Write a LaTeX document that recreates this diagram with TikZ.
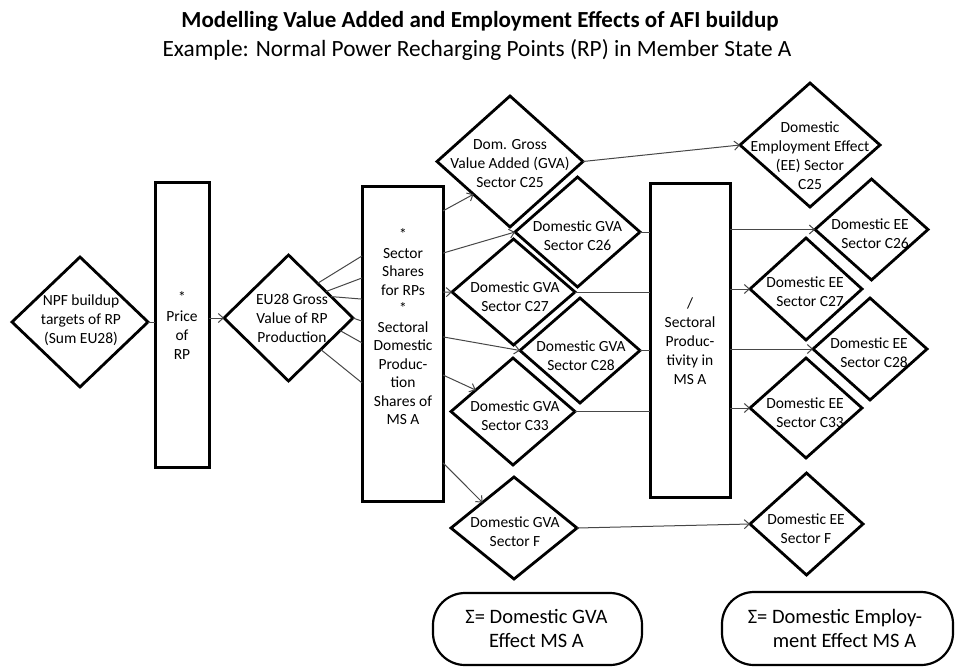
\documentclass[tikz,border=0pt]{standalone}
\usepackage{fontspec}
\setmainfont{Carlito}
\usetikzlibrary{shapes.geometric,arrows.meta,calc}
\begin{document}
\begin{tikzpicture}[x=1pt,y=-1pt,
  dmd/.style={diamond, draw, line width=2.8pt, inner sep=0pt, outer sep=0pt},
  bar/.style={rectangle, draw, line width=3pt, inner sep=0pt, outer sep=0pt},
  txt/.style={align=center, font=\fontsize{15.5}{19}\selectfont, inner sep=0pt},
  rtxt/.style={align=right, font=\fontsize{15.5}{19}\selectfont, inner sep=0pt, anchor=east},
  conn/.style={draw=black!72, line width=1pt},
  arr/.style={conn, -{Straight Barb[length=5pt,width=9pt]}},
  sumbox/.style={rectangle, rounded corners=32pt, draw, line width=2.2pt, inner sep=0pt},
  sumtxt/.style={align=center, font=\fontsize{20.5}{24}\selectfont, inner sep=0pt}
]
\useasboundingbox (0,0) rectangle (955,667);

% title
\node[font=\fontsize{23}{27}\selectfont\bfseries, anchor=base] (title) at (480,27) {Modelling Value Added and Employment Effects of AFI buildup};
\node[font=\fontsize{23.3}{27}\selectfont, anchor=base] (subtitle) at (477,56) {Example: Normal Power Recharging Points (RP) in Member State A};

% left chain
\node[dmd, minimum width=136pt, minimum height=130pt] (npf) at (80,322) {};
\node[txt] (npft) at (81,320) {NPF buildup\\targets of RP\\(Sum EU28)};
\node[bar, minimum width=54pt, minimum height=285pt] (price) at (182,324.5) {};
\node[txt] (pricet) at (182,325) {*\\Price\\of\\RP};
\node[dmd, minimum width=129pt, minimum height=126pt] (eu) at (288.5,318) {};
\node[txt] (eut) at (292,318) {EU28 Gross\\Value of RP\\Production};
\node[bar, minimum width=81pt, minimum height=315pt] (sec) at (402.5,343.5) {};
\node[txt, font=\fontsize{15.5}{18.5}\selectfont] (sect) at (403,327) {*\\Sector\\Shares\\for RPs\\*\\Sectoral\\Domestic\\Produc-\\tion\\Shares of\\MS A};

% GVA diamonds
\node[dmd, minimum width=146pt, minimum height=131pt] (g25) at (510,161.5) {};
\node[txt] (g25t) at (510,164) {Dom. Gross\\Value Added (GVA)\\Sector C25};
\node[dmd, minimum width=125pt, minimum height=110pt] (g26) at (577.5,232) {};
\node[txt] (g26t) at (577.5,236) {Domestic GVA\\Sector C26};
\node[dmd, minimum width=123pt, minimum height=106pt] (g27) at (513.5,292) {};
\node[txt] (g27t) at (515,297) {Domestic GVA\\Sector C27};
\node[dmd, minimum width=120pt, minimum height=105pt] (g28) at (580,350.5) {};
\node[txt] (g28t) at (581,356) {Domestic GVA\\Sector C28};
\node[dmd, minimum width=124pt, minimum height=107pt] (g33) at (513,411.5) {};
\node[txt] (g33t) at (515,416) {Domestic GVA\\Sector C33};
\node[dmd, minimum width=126pt, minimum height=102pt] (gF) at (514,528) {};
\node[txt] (gFt) at (515,532) {Domestic GVA\\Sector F};

% productivity bar
\node[bar, minimum width=80pt, minimum height=314pt] (prod) at (690,340) {};
\node[txt] (prodt) at (690,341) {/\\Sectoral\\Produc-\\tivity in\\MS A};

% EE diamonds
\node[dmd, minimum width=140pt, minimum height=124pt] (e25) at (810,145) {};
\node[txt] (e25t) at (810,155.5) {Domestic\\Employment Effect\\(EE) Sector\\C25};
\node[dmd, minimum width=113pt, minimum height=101pt] (e26) at (871.5,229.5) {};
\node[rtxt] (e26t) at (909,233.5) {Domestic EE\\Sector C26};
\node[dmd, minimum width=112pt, minimum height=102pt] (e27) at (806,289) {};
\node[rtxt] (e27t) at (844,292) {Domestic EE\\Sector C27};
\node[dmd, minimum width=114pt, minimum height=102pt] (e28) at (870,349) {};
\node[rtxt] (e28t) at (908,352.5) {Domestic EE\\Sector C28};
\node[dmd, minimum width=112pt, minimum height=100pt] (e33) at (806,408) {};
\node[rtxt] (e33t) at (844,412.5) {Domestic EE\\Sector C33};
\node[dmd, minimum width=113pt, minimum height=102pt] (eF) at (806.5,524) {};
\node[txt] (eFt) at (806,528.5) {Domestic EE\\Sector F};

% sum boxes
\node[sumbox, minimum width=209pt, minimum height=72pt] (s1) at (537.5,629) {};
\node[sumtxt] (s1t) at (536.5,628) {Σ= Domestic GVA\\Effect MS A};
\node[sumbox, minimum width=231pt, minimum height=73pt] (s2) at (837.5,628.5) {};
\node[sumtxt] (s2t) at (835,628) {Σ= Domestic Employ-\\\hspace*{19pt}ment Effect MS A};

% connectors left
\draw[conn] (npf.east) -- (npf.east -| price.west);
\draw[arr] (price.east |- eu.west) -- (eu.west);
\draw[conn] ($(eu.north)!0.45!(eu.east)$) -- ($(sec.north west)!0.222!(sec.south west)$);
\draw[conn] ($(eu.north)!0.58!(eu.east)$) -- ($(sec.north west)!0.292!(sec.south west)$);
\draw[conn] ($(eu.north)!0.66!(eu.east)$) -- ($(sec.north west)!0.359!(sec.south west)$);
\draw[conn] (eu.east) -- ($(sec.north west)!0.429!(sec.south west)$);
\draw[conn] ($(eu.east)!0.2!(eu.south)$) -- ($(sec.north west)!0.498!(sec.south west)$);
\draw[conn] ($(eu.east)!0.5!(eu.south)$) -- ($(sec.north west)!0.625!(sec.south west)$);

% sector -> GVA
\draw[arr] ($(sec.north east)!0.079!(sec.south east)$) -- ($(g25.west)!0.5!(g25.south)$);
\draw[arr] ($(sec.north east)!0.213!(sec.south east)$) -- (g26.west);
\draw[arr] ($(sec.north east)!0.337!(sec.south east)$) -- (g27.west);
\draw[arr] ($(sec.north east)!0.479!(sec.south east)$) -- (g28.west);
\draw[arr] ($(sec.north east)!0.6!(sec.south east)$) -- ($(g33.west)!0.4!(g33.north)$);
\draw[arr] ($(sec.north east)!0.879!(sec.south east)$) -- ($(gF.west)!0.5!(gF.north)$);

% GVA -> productivity -> EE
\draw[conn] (g26.east) -- (g26.east -| prod.west);
\draw[conn] (g27.east) -- (g27.east -| prod.west);
\draw[conn] (g28.east) -- (g28.east -| prod.west);
\draw[conn] (g33.east) -- (g33.east -| prod.west);
\draw[arr] (prod.east |- e26.west) -- (e26.west);
\draw[arr] (prod.east |- e27.west) -- (e27.west);
\draw[arr] (prod.east |- e28.west) -- (e28.west);
\draw[arr] (prod.east |- e33.west) -- (e33.west);
\draw[arr] (g25.east) -- (e25.west);
\draw[arr] (gF.east) -- (eF.west);
\end{tikzpicture}
\end{document}
